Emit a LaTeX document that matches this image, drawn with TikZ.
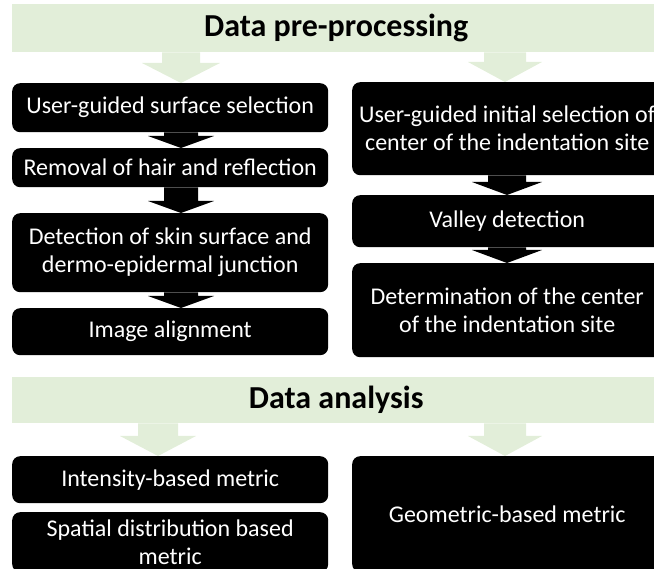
\documentclass[tikz,border=0pt]{standalone}
\usepackage{fontspec}
\setmainfont{Carlito}
\usetikzlibrary{calc}
\usetikzlibrary{positioning}
\definecolor{bannergreen}{RGB}{226,238,217}
\tikzset{
	banner/.style={
		rectangle,
		fill=bannergreen,
		inner sep=0pt,
		minimum width=648pt,
		minimum height=48pt,
		font=\fontsize{32}{36}\selectfont\bfseries,
		anchor=north west},
	procbox/.style={
		rectangle,
		rounded corners=8pt,
		fill=black,
		text=white,
		inner sep=0pt,
		align=center,
		font=\fontsize{24}{28}\selectfont,
		anchor=north west},
	leftcol/.style={procbox, minimum width=316pt},
	rightcol/.style={procbox, minimum width=310pt},
}
% block arrow: colour, from node, to node, centre x, shaft half width, head half width, head length
\newcommand{\blockarrow}[7]{%
	\fill[#1] let \p1=(#2.south), \p2=(#3.north) in
		({#4pt-#5pt},\y1) -- ({#4pt+#5pt},\y1) -- ({#4pt+#5pt},\y2+#7pt)
		-- ({#4pt+#6pt},\y2+#7pt) -- (#4pt,\y2) -- ({#4pt-#6pt},\y2+#7pt)
		-- ({#4pt-#5pt},\y2+#7pt) -- cycle;}

\begin{document}
\begin{tikzpicture}[x=1pt,y=-1pt]
	\clip (0,0) rectangle (654,569);
	
	% data pre-processing
	\node[banner] (pre) at (12,4) {Data pre-processing};
	\node[leftcol, minimum height=49pt] (surf) at (12,83) {User-guided surface selection};
	\node[leftcol, minimum height=39pt] (hair) at (12,148) {Removal of hair and reflection};
	\node[leftcol, minimum height=79pt] (detect) at (12,213) {Detection of skin surface and\\dermo-epidermal junction};
	\node[leftcol, minimum height=47pt] (align) at (12,308) {Image alignment};
	
	\node[rightcol, minimum height=93pt] (init) at (352,82) {User-guided initial selection of\\center of the indentation site};
	\node[rightcol, minimum height=52pt] (valley) at (352,195) {Valley detection};
	\node[rightcol, minimum height=94pt] (center) at (352,263) {Determination of the center\\of the indentation site};
	
	% data analysis
	\node[banner, minimum height=46pt] (ana) at (12,377) {Data analysis};
	\node[leftcol, minimum height=47pt] (intens) at (12,456) {Intensity-based metric};
	\node[leftcol, minimum height=60pt] (spatial) at (12,512) {Spatial distribution based\\metric};
	\node[rightcol, minimum height=116pt] (geom) at (352,456) {Geometric-based metric};
	
	% arrows
	\blockarrow{bannergreen}{pre}{surf}{181}{19}{39}{20}
	\blockarrow{bannergreen}{pre}{init}{505}{21}{37}{20}
	\blockarrow{black}{surf}{hair}{181}{17}{33}{12}
	\blockarrow{black}{hair}{detect}{181}{17}{33}{12}
	\blockarrow{black}{detect}{align}{181}{17}{33}{12}
	\blockarrow{black}{init}{valley}{507}{19}{35}{13}
	\blockarrow{black}{valley}{center}{507}{19}{35}{13}
	\blockarrow{bannergreen}{ana}{intens}{158}{20}{38}{20}
	\blockarrow{bannergreen}{ana}{geom}{505}{21}{37}{20}
\end{tikzpicture}
\end{document}
